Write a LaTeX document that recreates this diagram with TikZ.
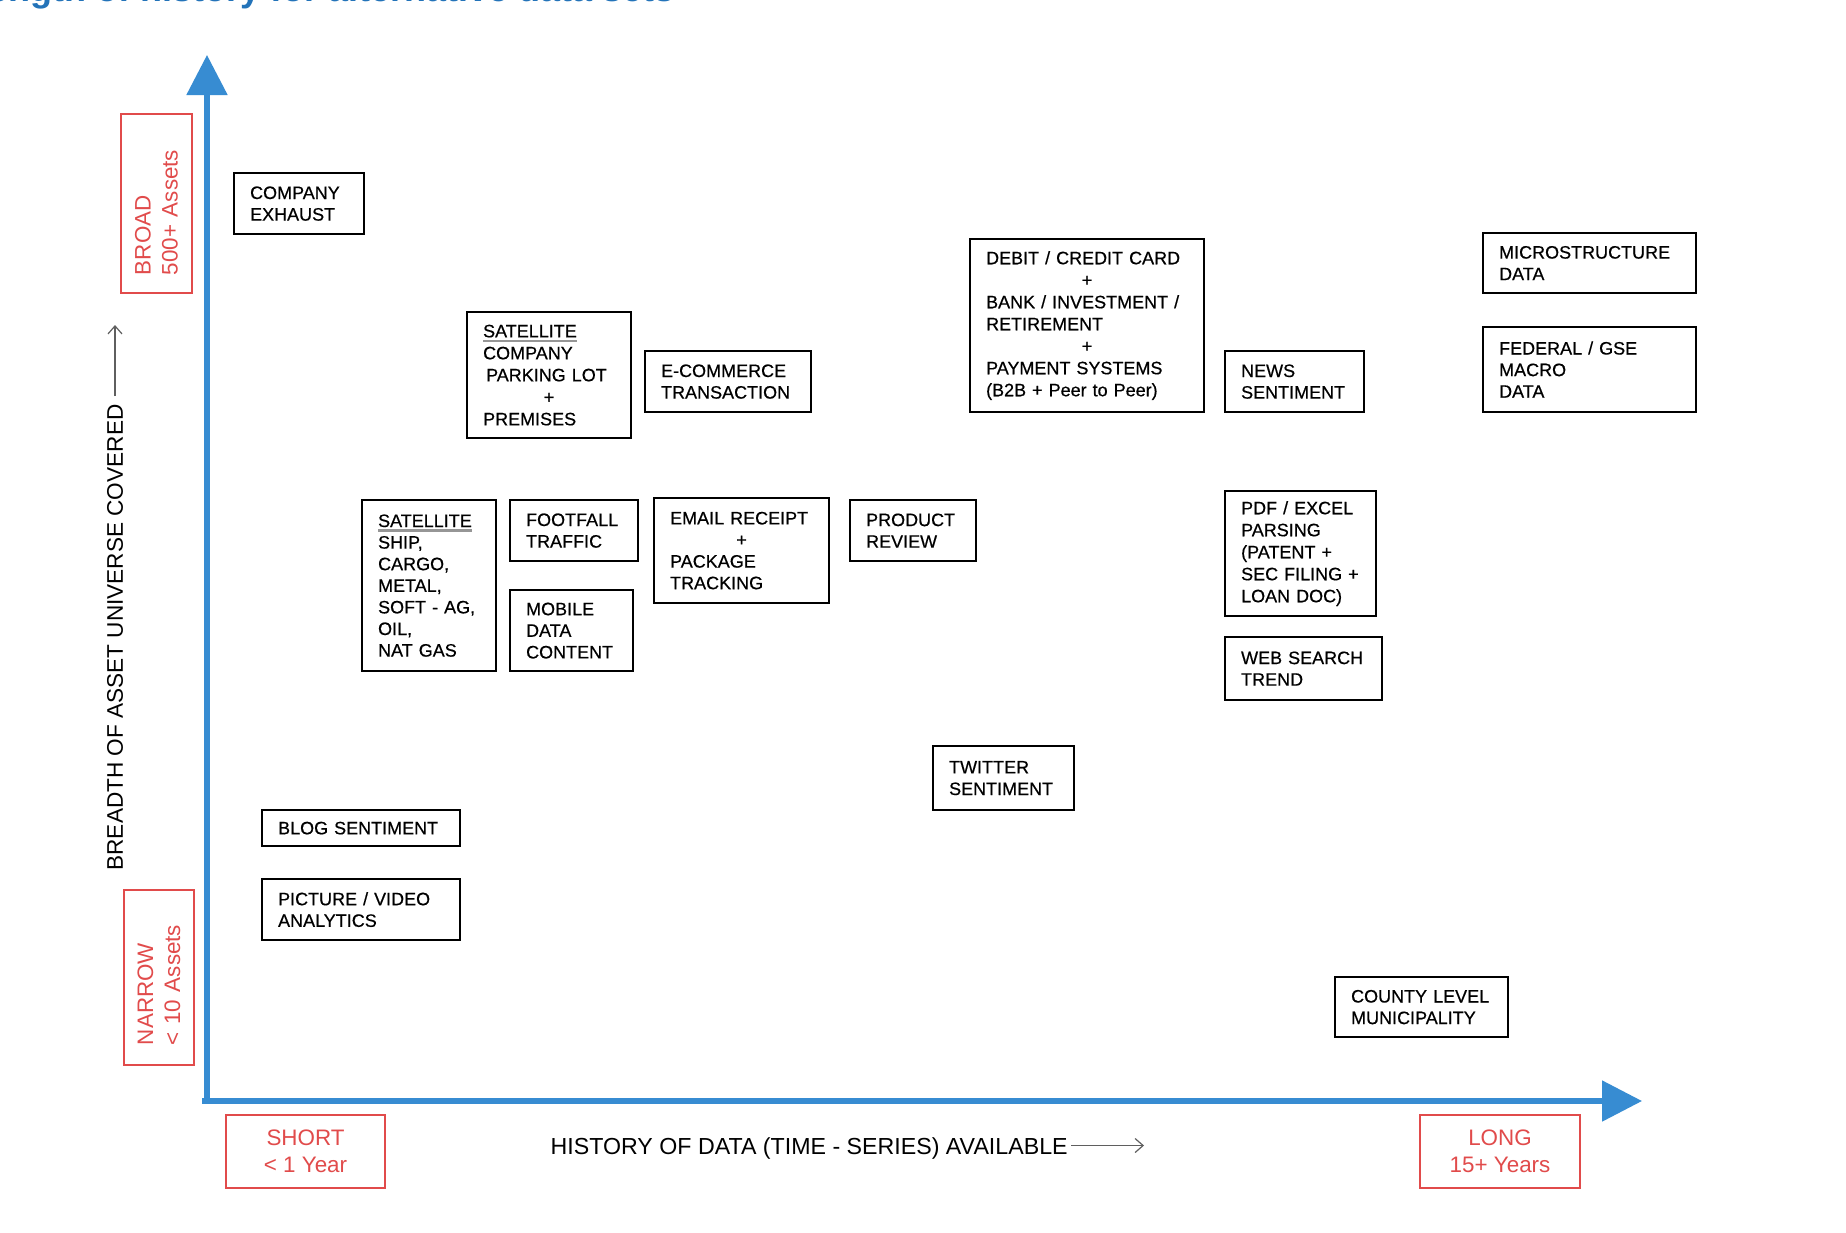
\documentclass[tikz,border=0pt]{standalone}
\usepackage{fontspec}
\setmainfont{Liberation Sans}
\newfontfamily\boxfam[FakeBold=0.5]{Liberation Sans}
\usetikzlibrary{arrows.meta}
\definecolor{axisblue}{RGB}{55,140,210}
\definecolor{labred}{RGB}{225,75,75}
\definecolor{arrgray}{RGB}{95,95,95}
\definecolor{ulgray}{RGB}{150,150,150}
\definecolor{titleblue}{RGB}{35,115,185}
\newcommand\boxfont{\boxfam\fontsize{9pt}{10.8pt}\selectfont}
\newcommand\redfont{\fontsize{11.2pt}{13.5pt}\selectfont}
\newcommand\axfont{\fontsize{11.3pt}{13.5pt}\selectfont}
\newcommand\ctrline[1]{\hbox to \hsize{\hss#1\hss}}
\newcommand\mysatul{\setbox0\hbox{SATELLITE}\rlap{\color{ulgray}\rule[-2.3pt]{\wd0}{1.1pt}}\box0}
\begin{document}
\begin{tikzpicture}[x=0.5pt,y=-0.5pt,
  dbox/.style={draw, line width=1.1pt, anchor=north west, align=left,
    inner xsep=8pt, inner ysep=0pt, font=\boxfont},
  rbox/.style={draw=labred, line width=0.9pt, text=labred, font=\redfont,
    align=center, inner sep=0pt},
  axisline/.style={draw=axisblue, line width=2.6pt,
    -{Triangle[length=20pt,width=20pt]}, fill=axisblue},
  axlab/.style={font=\axfont, inner sep=0pt, text=black},
  thinarrow/.style={draw=arrgray, line width=0.6pt, -{Straight Barb[length=4pt,width=7pt]}}
]
\path[use as bounding box] (0,0) rectangle (1846,1232);
\clip (0,0) rectangle (1846,1232);
\fill[white] (0,0) rectangle (1846,1232);

% title (cut off at top)
\node[anchor=base west, inner sep=0pt, text=titleblue,
  font=\fontsize{18pt}{20pt}\selectfont\bfseries] (title) at (8,1)
  {\llap{Le}ngth of history for alternative data sets};

% axes
\coordinate (O) at (207,1101);
\coordinate (Ytip) at (207,55);
\coordinate (Xstart) at (202,1101);
\coordinate (Xtip) at (1642,1101);
\draw[axisline] (O) -- (Ytip);
\draw[axisline] (Xstart) -- (Xtip);

% axis labels
\node[axlab, rotate=90] (ylab) at (115,637.5) {BREADTH OF ASSET UNIVERSE COVERED};
\coordinate (ya1) at (115,396);
\coordinate (ya2) at (115,325);
\draw[thinarrow] (ya1) -- (ya2);

\node[axlab, anchor=base east, font=\fontsize{11.6pt}{13.5pt}\selectfont] (xlab) at (1068,1154) {HISTORY OF DATA (TIME - SERIES) AVAILABLE};
\coordinate (xa1) at (1071,1145.5);
\coordinate (xa2) at (1144,1145.5);
\draw[thinarrow] (xa1) -- (xa2);

% red range boxes
\node[rbox, rotate=90, align=left, text width=71.5pt, inner xsep=9pt,
  minimum height=35.5pt] (broad) at (156.5,203.5) {BROAD\\500+ Assets};
\node[rbox, rotate=90, align=left, text width=67.5pt, inner xsep=10pt,
  minimum height=35pt] (narrow) at (159,977.5) {NARROW\\< 10 Assets};
\node[rbox, minimum width=79.5pt, minimum height=36.5pt] (short) at (305.5,1151.5) {SHORT\\< 1 Year};
\node[rbox, minimum width=80pt, minimum height=36.5pt] (long) at (1500,1151.5) {LONG\\15+ Years};

% data set boxes
\node[dbox, text width=49pt, minimum height=30.5pt] (company) at (233,172) {COMPANY\\EXHAUST};
\node[dbox, text width=66pt, minimum height=63pt, font=\boxfam\fontsize{9pt}{11pt}\selectfont] (satpark) at (466,311)
  {\mysatul\\COMPANY\\\hspace*{1.5pt}PARKING LOT\\\ctrline{+}PREMISES};
\node[dbox, text width=67pt, minimum height=30.5pt] (ecom) at (644,350) {E-COMMERCE\\TRANSACTION};
\node[dbox, text width=101pt, minimum height=86.5pt, font=\boxfam\fontsize{9pt}{11pt}\selectfont] (debit) at (969,238)
  {DEBIT / CREDIT CARD\\\ctrline{+}BANK / INVESTMENT /\\RETIREMENT\\\ctrline{+}PAYMENT SYSTEMS\\(B2B + Peer to Peer)};
\node[dbox, text width=53.5pt, minimum height=30.5pt] (news) at (1224,350) {NEWS\\SENTIMENT};
\node[dbox, text width=90.5pt, minimum height=30pt] (micro) at (1482,232) {MICROSTRUCTURE\\DATA};
\node[dbox, text width=90.5pt, minimum height=42.5pt] (fed) at (1482,326) {FEDERAL / GSE\\MACRO\\DATA};
\node[dbox, text width=51pt, minimum height=85.5pt] (ship) at (361,499)
  {\mysatul\\SHIP,\\CARGO,\\METAL,\\SOFT - AG,\\OIL,\\NAT GAS};
\node[dbox, text width=48pt, minimum height=30.5pt] (foot) at (509,499) {FOOTFALL\\TRAFFIC};
\node[dbox, text width=45.5pt, minimum height=40.5pt] (mobile) at (509,589) {MOBILE\\DATA\\CONTENT};
\node[dbox, text width=71.5pt, minimum height=52.5pt] (email) at (653,497)
  {EMAIL RECEIPT\\\ctrline{+}PACKAGE\\TRACKING};
\node[dbox, text width=47pt, minimum height=30.5pt] (product) at (849,499) {PRODUCT\\REVIEW};
\node[dbox, text width=59.5pt, minimum height=62.5pt, font=\boxfam\fontsize{9pt}{11pt}\selectfont] (pdf) at (1224,490)
  {PDF / EXCEL\\PARSING\\(PATENT +\\SEC FILING +\\LOAN DOC)};
\node[dbox, text width=62.5pt, minimum height=31.5pt] (web) at (1224,636) {WEB SEARCH\\TREND};
\node[dbox, text width=54.5pt, minimum height=32pt] (twitter) at (932,745) {TWITTER\\SENTIMENT};
\node[dbox, text width=83pt, minimum height=18pt] (blog) at (261,809) {BLOG SENTIMENT};
\node[dbox, text width=83pt, minimum height=30.5pt] (picture) at (261,878) {PICTURE / VIDEO\\ANALYTICS};
\node[dbox, text width=70.5pt, minimum height=30pt] (county) at (1334,976) {COUNTY LEVEL\\MUNICIPALITY};
\end{tikzpicture}
\end{document}
